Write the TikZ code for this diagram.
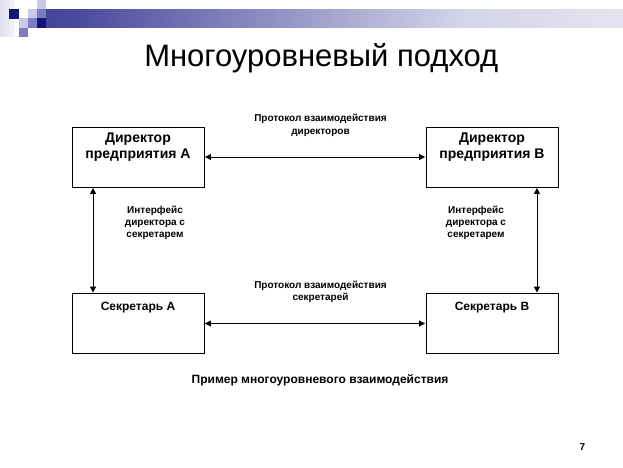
\documentclass[tikz,border=0pt]{standalone}
\usepackage{fontspec}
\setmainfont{Liberation Sans}
\usetikzlibrary{arrows.meta}
\definecolor{navy}{RGB}{20,20,120}
\definecolor{barmid}{RGB}{72,72,156}
\definecolor{barpale}{RGB}{212,212,232}
\definecolor{sqmed}{RGB}{125,125,195}
\definecolor{sqpale}{RGB}{200,200,232}
\pgfdeclarehorizontalshading{barshade}{100bp}{color(0bp)=(navy); color(27bp)=(barmid); color(61bp)=(barpale); color(100bp)=(white)}
\pgfdeclarehorizontalshading{colshade}{100bp}{color(0bp)=(barpale); color(100bp)=(white)}
\tikzset{
  box/.style={draw=black, line width=0.9pt, minimum width=132pt, minimum height=60pt, inner sep=0pt},
  dirtext/.style={font=\bfseries\fontsize{14}{15.7}\selectfont, align=center, inner sep=0pt, anchor=base},
  sectext/.style={font=\bfseries\fontsize{12}{14}\selectfont, inner sep=0pt, anchor=base},
  lbl/.style={font=\bfseries\fontsize{10}{12.2}\selectfont, align=center, inner sep=0pt, anchor=base},
  dar/.style={line width=0.9pt, {Triangle[length=6pt,width=6pt]}-{Triangle[length=6pt,width=6pt]}, shorten <=0.5pt, shorten >=0.5pt}
}
\begin{document}
\begin{tikzpicture}[x=1pt,y=-1pt]
\useasboundingbox (0,0) rectangle (623,467);
\fill[white] (0,0) rectangle (623,467);
% decoration
\shade[shading=colshade] (0,0) rectangle (15,36);
\shade[shading=barshade] (46,9) rectangle (623,27.5);
\fill[navy] (37,18) rectangle (46,27.5);
\fill[navy] (9,9) rectangle (18.5,18.5);
\fill[sqpale] (37,0) rectangle (46,9);
\fill[sqpale] (28,9) rectangle (37,18);
\fill[sqmed] (37,9) rectangle (46,18);
\fill[sqpale] (19,18) rectangle (28,27.5);
\fill[sqmed] (28,18) rectangle (37,27.5);
\fill[sqmed] (19,27.5) rectangle (28,37);
% title
\node[font=\fontsize{31}{37}\selectfont, inner sep=0pt, anchor=base] (title) at (321.3,66) {Многоуровневый подход};
% boxes
\node[box] (dA) at (138,157) {};
\node[box] (dB) at (492,157) {};
\node[box] (sA) at (138,323.5) {};
\node[box] (sB) at (492,323.5) {};
\node[dirtext] (dAt) at (138,158.3) {Директор\\предприятия А};
\node[dirtext] (dBt) at (492,158.3) {Директор\\предприятия В};
\node[sectext] (sAt) at (138,310) {Секретарь А};
\node[sectext] (sBt) at (492,310) {Секретарь В};
% connectors
\draw[dar] (dA.east) -- (dB.west);
\draw[dar] (sA.east) -- (sB.west);
\draw[dar] ([xshift=21.5pt]dA.south west) -- ([xshift=21.5pt]sA.north west);
\draw[dar] ([xshift=-21.5pt]dB.south east) -- ([xshift=-21.5pt]sB.north east);
% labels
\node[lbl] (p1) at (320.5,134) {Протокол взаимодействия\\директоров};
\node[lbl] (p2) at (320.5,300.5) {Протокол взаимодействия\\секретарей};
\node[lbl] (iA) at (155,237.7) {Интерфейс\\директора с\\секретарем};
\node[lbl] (iB) at (476,237.7) {Интерфейс\\директора с\\секретарем};
\node[font=\bfseries\fontsize{12}{14}\selectfont, inner sep=0pt, anchor=base] (cap) at (320,383.3) {Пример многоуровневого взаимодействия};
\node[font=\bfseries\fontsize{10}{12}\selectfont, inner sep=0pt, anchor=base] (pg) at (582.3,450.5) {7};
\end{tikzpicture}
\end{document}
